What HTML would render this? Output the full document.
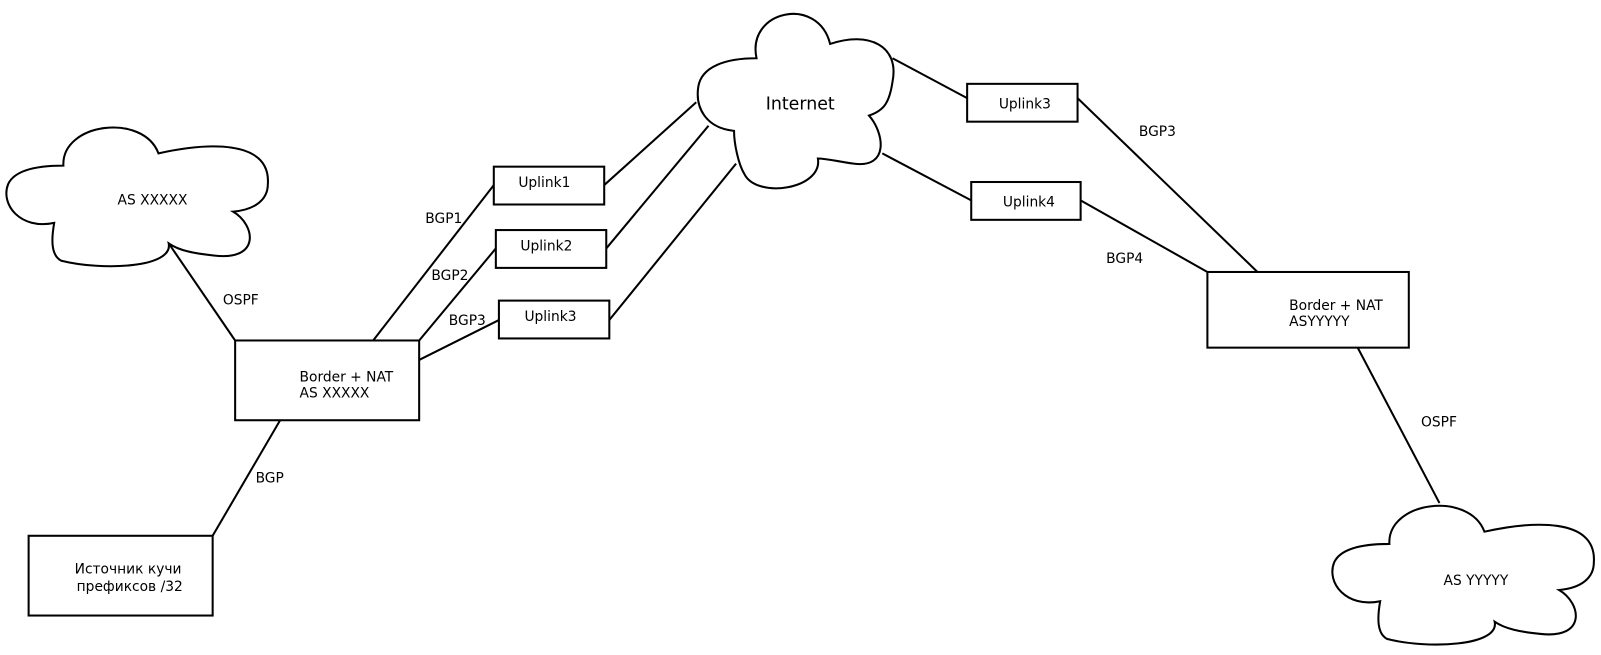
<!DOCTYPE html>
<html><head><meta charset="utf-8"><style>
html,body{margin:0;padding:0;background:#fff;overflow:hidden;}
svg{display:block;}
text{font-family:"DejaVu Sans","Liberation Sans",sans-serif;font-size:13.5px;fill:#000;}
</style></head><body>
<svg width="1601" height="655" viewBox="0 0 1566 640.6" preserveAspectRatio="none" xmlns="http://www.w3.org/2000/svg">
<g fill="none" stroke="#000" stroke-width="2">
<path d="M62,162 C60,120 140,110 155,150 C200,140 265,135 262,180 C262,195 250,205 228,207 C250,220 255,255 210,250 C190,248 175,245 165,238 C170,262 100,265 60,255 C50,250 50,235 53,218 C20,225 0,200 8,180 C15,165 40,162 62,162 Z"/>
<path d="M62,162 C60,120 140,110 155,150 C200,140 265,135 262,180 C262,195 250,205 228,207 C250,220 255,255 210,250 C190,248 175,245 165,238 C170,262 100,265 60,255 C50,250 50,235 53,218 C20,225 0,200 8,180 C15,165 40,162 62,162 Z" transform="translate(1297,370)"/>
<path d="M740,57 C730,10 800,-5 812,43 C850,30 880,45 873,80 C870,100 865,108 850,113 C865,130 870,165 835,160 C820,158 808,155 800,155 C805,185 740,195 728,170 C722,160 718,140 718,128 C690,125 680,105 683,85 C686,65 710,57 740,57 Z"/>
<rect x="483" y="163" width="108" height="37"/>
<rect x="485" y="225" width="108" height="37"/>
<rect x="488" y="294" width="108" height="37"/>
<rect x="946" y="82" width="108" height="37"/>
<rect x="950" y="178" width="107" height="37"/>
<rect x="230" y="333" width="180" height="78"/>
<rect x="1181" y="266" width="197" height="74"/>
<rect x="28" y="524" width="180" height="78"/>
<line x1="165" y1="238" x2="230" y2="333"/>
<line x1="365" y1="333" x2="483" y2="181"/>
<line x1="410" y1="333" x2="485" y2="243"/>
<line x1="410" y1="352" x2="488" y2="313"/>
<line x1="591" y1="181" x2="681" y2="100"/>
<line x1="593" y1="243" x2="693" y2="123"/>
<line x1="596" y1="313" x2="720" y2="160"/>
<line x1="873" y1="57" x2="946" y2="96"/>
<line x1="863" y1="150" x2="950" y2="196"/>
<line x1="1054" y1="96" x2="1230" y2="266"/>
<line x1="1057" y1="196" x2="1181" y2="266"/>
<line x1="1328" y1="340" x2="1408" y2="492"/>
<line x1="274" y1="411" x2="208" y2="524"/>
</g>
<text x="115" y="200">AS XXXXX</text>
<text x="1412" y="572">AS YYYYY</text>
<text x="749" y="107" style="font-size:17px">Internet</text>
<text x="507" y="183">Uplink1</text>
<text x="509" y="245">Uplink2</text>
<text x="513" y="314">Uplink3</text>
<text x="977" y="106">Uplink3</text>
<text x="981" y="202">Uplink4</text>
<text x="293" y="373">Border + NAT</text>
<text x="293" y="389">AS XXXXX</text>
<text x="1261" y="303">Border + NAT</text>
<text x="1261" y="319">ASYYYYY</text>
<text x="73" y="561">Источник кучи</text>
<text x="75" y="578">префиксов /32</text>
<text x="218" y="298">OSPF</text>
<text x="416" y="218">BGP1</text>
<text x="422" y="274">BGP2</text>
<text x="439" y="318">BGP3</text>
<text x="1114" y="133">BGP3</text>
<text x="1082" y="257">BGP4</text>
<text x="1390" y="417">OSPF</text>
<text x="250" y="472">BGP</text>
</svg>
</body></html>
